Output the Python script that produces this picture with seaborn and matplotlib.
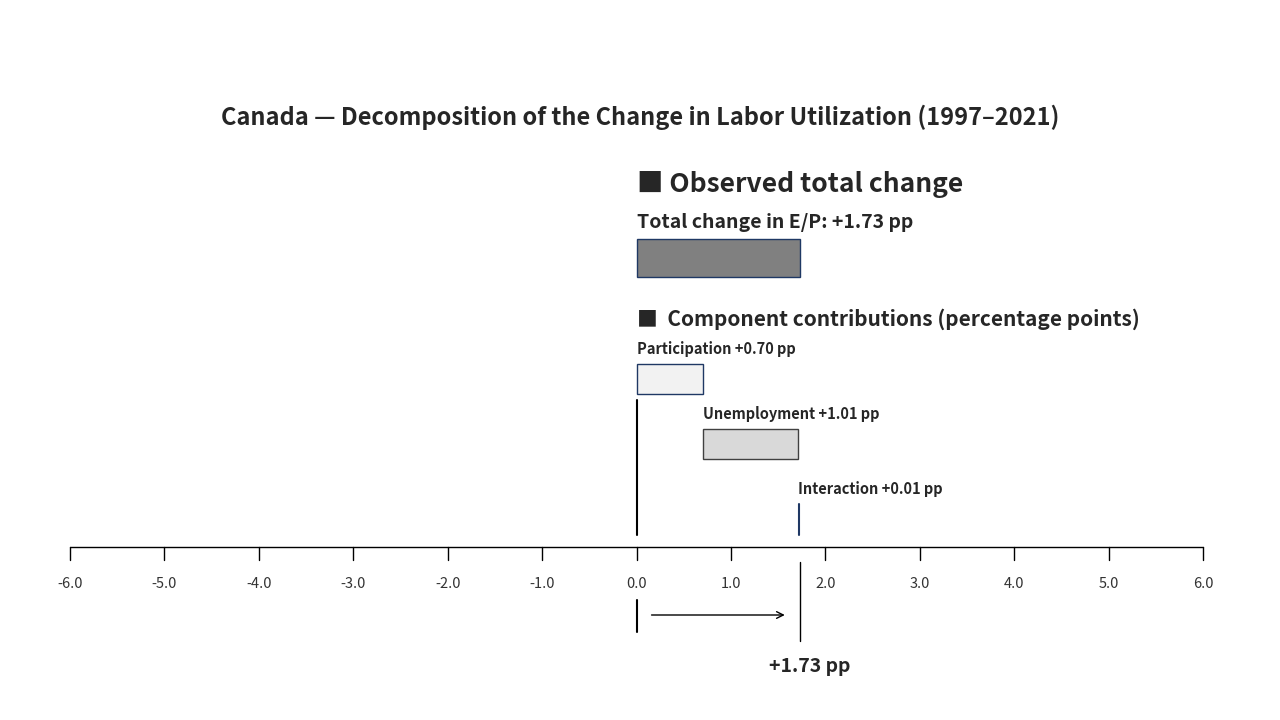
import matplotlib.pyplot as plt
import seaborn as sns
import numpy as np

title = "Canada — Decomposition of the Change in Labor Utilization (1997–2021)"
total_change = 1.73
components = ["Participation", "Unemployment", "Interaction"]
contrib = [0.70, 1.01, 0.01]
comp_colors = ["#f2f2f2", "#d9d9d9", "#1f3864"]
comp_edges = ["#1f3864", "#404040", "#1f3864"]
ticks = np.arange(-6, 7, 1.0)

sns.set_theme(style="white")
plt.rcParams["font.family"] = ["Noto Sans CJK JP", "DejaVu Sans"]

fig = plt.figure(figsize=(12.8, 7.2), dpi=100)
ax = fig.add_axes([0, 0, 1, 1])
ppu = (1203 - 70) / 12.0
ax.set_xlim(-6 - 70 / ppu, 6 + (1280 - 1203) / ppu)
ax.set_ylim(720, 0)
ax.axis("off")

ax.text(636.5 / ppu - 6.741 - 0.0, 0, "")
ax.text(0.5, 1 - 117 / 720, title, transform=ax.transAxes, ha="center", va="center",
        fontsize=17, fontweight="bold")

# observed total
ax.text(0.0, 185, "■ Observed total change", fontsize=19, fontweight="bold", va="center", ha="left")
ax.text(0.0, 222, f"Total change in E/P: +{total_change:.2f} pp", fontsize=14, fontweight="bold",
        va="center", ha="left")
ax.barh(258, total_change, left=0, height=38, color="#808080", edgecolor="#1f3864", linewidth=1)

ax.text(0.0, 319, "■  Component contributions (percentage points)", fontsize=15, fontweight="bold",
        va="center", ha="left")

# components as stacked waterfall
lefts = np.concatenate([[0], np.cumsum(contrib)[:-1]])
ycent = [379, 444, 519]
heights = [30, 30, 30]
for name, v, l, y, h, c, e in zip(components, contrib, lefts, ycent, heights, comp_colors, comp_edges):
    if v < 0.05:
        ax.plot([l + v, l + v], [y - 15, y + 16], color=e, lw=1.5)
    else:
        ax.barh(y, v, left=l, height=h, color=c, edgecolor=e, linewidth=1)
    ax.text(l, y - 30, f"{name} +{v:.2f} pp", fontsize=10.5, fontweight="bold", va="center", ha="left")

ax.plot([0, 0], [400, 535], color="black", lw=1.5)

# axis
ax.plot([-6, 6], [547, 547], color="black", lw=1)
for t in ticks:
    ax.plot([t, t], [547, 560], color="black", lw=1)
    ax.text(t, 584, f"{t:.1f}", fontsize=10.5, ha="center", va="center", color="#333333")

# bottom annotation
ax.plot([0, 0], [600, 632], color="black", lw=1.5)
ax.plot([total_change, total_change], [562, 641], color="black", lw=1)
ax.annotate("", xy=(1.6, 615), xytext=(0.13, 615),
            arrowprops=dict(arrowstyle="->", color="black", lw=1))
ax.text(total_change + 0.1, 666, f"+{total_change:.2f} pp", fontsize=14, fontweight="bold",
        ha="center", va="center")

fig.savefig("out.png", dpi=100)
